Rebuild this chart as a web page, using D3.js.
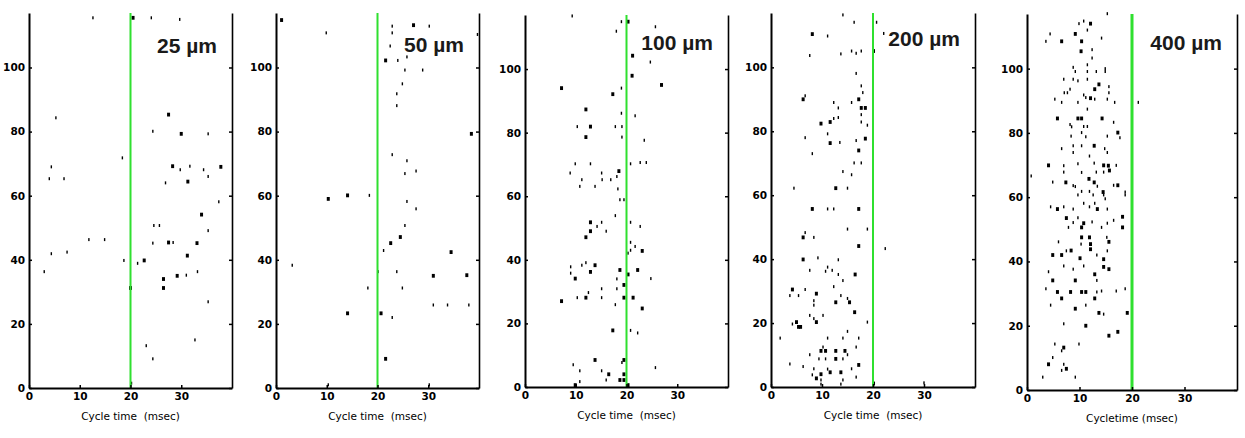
<!DOCTYPE html>
<meta charset="utf-8">
<script src="https://d3js.org/d3.v7.min.js"></script>
<style>
  body { margin: 0; background: #fff; }
  .tick text { font-family: "DejaVu Sans", sans-serif; font-size: 10.5px; font-weight: bold; fill: #000; }
</style>
<div id="my_dataviz"></div>

<script>
// spike rasters: [cycle time (msec), trial, spikes in the bin]
var spikes25 = [[12.6,115.5,1],[20.5,115.5,2],[24.1,115.5,1],[29.7,115,1],[5.3,84.3,1],[27.5,85.3,2],[24.4,80.1,1],[30,79.3,2],[35.3,79.3,1],[18.4,71.8,1],[4.4,69,1],[4,65.3,1],[6.9,65.3,1],[28.3,69.2,2],[29.8,68.1,1],[31.7,69.2,1],[34.4,68.1,1],[37.8,69,2],[26.9,64,1],[31.3,64.4,2],[35.3,66,1],[37.4,58.1,1],[34,54.1,2],[24.6,50.7,1],[25.7,50.7,1],[35.3,49.1,1],[11.8,46.3,1],[14.9,46.3,1],[24.4,45.2,1],[27.5,45.4,2],[28.4,45.4,1],[33.1,45.2,2],[4.4,41.9,1],[7.5,42.4,1],[18.7,39.8,1],[21.4,38.9,1],[22.7,39.8,2],[31.2,41.3,2],[3,36.3,1],[26.5,34,2],[26.5,31.2,2],[29.2,35,2],[31,35.2,1],[33.2,36.3,1],[20,31.2,2],[35.3,26.9,1],[23.1,13.2,1],[32.7,15,1],[24.4,9.1,1],[20.2,1.5,1]];

var spikes50 = [[1.1,114.8,2],[9.9,110.8,1],[22.9,112.9,1],[27.1,113.2,2],[30.2,112.9,1],[39.7,110.3,1],[22.9,110.8,1],[22.5,106.7,1],[25.8,103.3,1],[21.6,102.2,2],[24,102.2,1],[25.4,99.2,1],[28.9,99.2,1],[24.9,94.9,1],[23.8,91.8,1],[23.8,88.1,1],[38.5,79.3,2],[22.9,72.8,1],[25.8,70.9,1],[25.4,66.9,1],[27.6,67.7,1],[25.8,58.2,1],[27.6,55.9,1],[10.3,59,2],[14.1,60.1,2],[18.4,60.1,1],[25.4,50.7,1],[24.5,47.1,2],[22.6,45.2,2],[21.2,42.9,1],[34.5,42.4,2],[3.2,38.3,1],[20.1,36.3,1],[23.8,36.3,1],[31,35,2],[37.6,35.2,2],[18.1,31.2,1],[24.9,31.2,1],[31,25.9,1],[33.8,25.9,1],[38,25.9,1],[14.1,23.3,2],[20.7,23.3,2],[22.9,22,1],[21.6,9.1,2],[10.3,1,1],[30.2,1,1]];

var spikes100 = [[9.3,116.7,1],[19,114.9,1],[20.3,114.9,2],[18,111.9,1],[25.7,113.3,1],[21.2,104.2,2],[24.7,102.2,1],[21.1,97.9,2],[26.9,95,2],[7.2,94,2],[19,94,1],[17.3,92.1,2],[12,87.3,2],[19,86.1,1],[21.7,85.3,1],[10.3,81.9,1],[12.9,81.9,2],[17.8,81.9,1],[19.1,81.9,1],[12,78.6,2],[19.1,78.6,1],[23.5,77.6,1],[9.9,70.2,1],[12.9,70.2,1],[20.8,70.2,1],[22.7,70.6,1],[23.9,70.6,1],[8.9,67.3,1],[15.1,67.3,1],[18.5,67.9,2],[18.1,66.2,1],[11.2,65.2,1],[15.2,65.2,1],[16.9,65.2,1],[10.8,63.1,1],[13.8,63.1,1],[18.3,62.3,1],[18.7,58.9,1],[19.5,58.9,1],[17.8,53.9,1],[12.9,51.8,2],[15.1,51.8,1],[14.2,50.5,1],[16,49,1],[20.8,51.8,1],[22.7,50.5,1],[12.9,49,2],[12,47.1,2],[20.8,45.5,1],[21.7,44.2,1],[20.3,42.1,1],[23.1,42.8,2],[20.8,43,1],[12,39.1,1],[11.2,38.3,1],[13.8,38.3,2],[9,37.8,1],[9,35.8,1],[12.9,36.2,2],[18.7,36.8,2],[20.3,35.4,2],[22.2,36.8,2],[9.9,34.1,2],[18.1,34,1],[24.8,34.1,1],[19.5,32.1,2],[15.1,30.9,1],[18.1,30.9,1],[12.5,29.7,1],[10.3,28.1,1],[12,28.1,2],[15.1,28.1,1],[19.5,28.1,2],[21.3,28.1,2],[7.2,27,2],[17.8,25.9,1],[23.1,24.7,2],[17.3,17.8,2],[20.8,17.8,1],[22.2,17,1],[13.8,8.5,2],[19.5,8.5,2],[19.1,7.7,1],[9.5,7,1],[25.7,6.1,1],[10.8,5.1,1],[15.1,5.1,1],[16.5,4,2],[19.5,4,2],[16,2.2,1],[18.7,2.2,2],[19.5,2.2,2],[10.8,1.7,1],[9.9,0.6,2],[20.3,0.6,2]];

var spikes200 = [[14.1,116.4,1],[16.3,114.1,1],[20.7,114.1,1],[8.1,110.4,2],[11.1,109.8,1],[22.1,110.6,1],[7.6,103.7,1],[13.7,104.2,1],[15.8,105.1,1],[16.7,104.4,1],[17.7,105.1,1],[20.1,105.1,2],[16.7,98.1,1],[17.7,94.2,1],[18,92.1,1],[6.3,90,2],[6.7,91.1,1],[17.2,90,2],[12.3,89,1],[15.8,89,1],[13.2,87.3,1],[17.7,87.3,2],[18.5,87.3,2],[17.7,85.2,1],[13.2,84.3,1],[12.3,84,1],[9.8,82.4,2],[11.6,82.9,2],[17.7,82.9,1],[18.9,81.9,1],[6.7,78,1],[11.1,79.2,1],[11.6,76.3,2],[13.5,76.5,1],[16.7,77.1,1],[18.5,77.7,2],[8.1,73,1],[17.2,74,2],[16.3,70.1,1],[17.7,70.1,1],[14.1,67.4,1],[15.8,66.4,1],[4.5,62.2,1],[12.7,62.2,2],[15,62.2,1],[8.1,55.7,2],[11.1,55.7,1],[12.3,55.7,1],[17.2,55.7,2],[15,49.4,1],[18.9,49.4,1],[6.7,48.3,1],[6.3,46.8,2],[8.4,46.8,1],[17.2,44.1,2],[22.4,43.3,1],[6.3,39.9,2],[9.2,40.4,1],[13.2,39.8,1],[11.1,37.5,1],[12,36.5,1],[10.7,36.2,1],[13.2,35.2,1],[16.5,35.2,2],[7.6,36.5,1],[14.1,33.3,1],[12.3,31.4,1],[4.2,30.5,2],[6.7,30.5,1],[8.9,29.2,2],[3.7,28.6,1],[5.4,28.6,1],[13.7,28.6,1],[8.4,27,1],[15,27.7,1],[12.7,26.5,2],[15.4,26.5,2],[8.4,25.6,1],[16.4,23.4,2],[10.2,22.4,1],[7.6,22.4,1],[8.4,21.4,1],[8.9,20.3,2],[18.9,20.3,1],[5,20.3,2],[5.4,18.8,2],[5.8,18.8,2],[4.2,19.7,1],[15,17.4,1],[1.8,15.3,1],[11.1,15.3,1],[14.1,15.3,1],[17.2,15.3,1],[16.7,12.5,1],[10.2,12.5,1],[9.8,11.3,2],[10.7,11.3,2],[12.7,11.3,2],[14.5,11.3,2],[15,10.1,1],[7.6,10.1,1],[9.4,8.8,1],[10.7,8.8,1],[12.7,8.8,2],[14.1,8.8,1],[3.7,7.2,1],[6.3,6.4,1],[8.4,5.7,1],[11.1,5.6,1],[11.6,4.6,2],[13.7,4.6,2],[15.8,5.7,1],[17.2,6.9,2],[9.8,4,2],[8.1,3.8,1],[8.9,2.7,2],[9.8,2.2,1],[14.1,2.2,1],[16.7,3.1,1],[9.8,0.9,1],[13.7,0.9,1],[20.1,1.1,2],[30,1.3,1]];

var spikes400 = [[15.3,117.1,1],[9.9,114,1],[12.1,114,2],[10.8,114.8,1],[11.5,112,1],[9.2,110.8,2],[4.4,110.8,1],[3.6,108.5,1],[6.6,108.5,2],[10.4,108.5,2],[14.2,109.5,1],[10.3,105.4,2],[12.4,105.9,1],[12.4,103.3,1],[11.5,101.2,1],[8.8,100.4,1],[9.2,99.1,1],[11.5,99.1,1],[13.2,99.1,1],[14.9,100,1],[14.9,99.1,1],[7,96.7,1],[8.8,96.7,1],[9.7,96.2,1],[11.5,96.7,1],[13.7,95.1,2],[15.6,94.4,1],[8.2,93.6,1],[12.9,93.6,2],[7.1,92.5,1],[7.7,92.5,1],[10.8,91.8,1],[11.2,91,1],[12.1,90.8,2],[12.9,90.5,1],[15.6,92.5,1],[15.3,90.5,1],[16.7,89.5,1],[5.3,90.5,1],[6.6,89.5,1],[9.7,89.5,1],[11.5,87.4,1],[21.2,89.5,1],[5.8,84.5,2],[9.7,84.5,2],[10.4,84.5,2],[14.3,84.5,2],[16.5,83.3,1],[8.2,82.6,1],[8.5,81.9,1],[10.8,82,1],[11.5,82,1],[10.4,80.1,1],[17.3,80.1,2],[17.7,78.5,1],[15.3,79,1],[8.4,79,1],[11.2,78.8,1],[8.8,76,1],[10.4,76,1],[12.8,76,2],[14.8,75.1,1],[6.6,75.1,1],[8.8,73.9,1],[15.3,73.9,1],[11.9,72.8,1],[4.1,69.9,2],[7,69.8,1],[7,67.8,1],[9.7,70.4,1],[12.8,70.6,1],[14.6,69.9,2],[15.5,69.8,2],[17,69.9,1],[13.2,67.8,1],[14.6,67.8,1],[15.7,68.3,2],[10.4,67.7,1],[0.8,66.6,1],[4.9,64.7,1],[7.4,64.6,2],[8.8,63.6,1],[9.2,63.3,1],[11.8,65.7,2],[12.8,64.6,2],[13.4,63.4,1],[14.5,61.6,2],[16.5,63.7,1],[17.3,63.7,2],[18.7,61.6,1],[11.9,61.8,1],[10.4,61.8,1],[9.7,60.7,1],[12.6,60.7,1],[14.6,60.7,1],[14.9,59.5,1],[18.7,60.7,1],[10.8,58.1,1],[12.9,58.1,1],[5.8,56.3,2],[4.5,57,1],[7,57,1],[8.8,56.3,1],[11.9,57,1],[13.4,56.3,2],[15.3,56.3,1],[7.5,53.5,2],[9.7,53.6,1],[10.8,51.9,2],[10.4,50.6,2],[8.8,52.1,1],[12.4,52.3,1],[15.3,51.9,1],[16.5,52.8,1],[18.2,53.9,2],[18.2,50.6,2],[7.9,50.6,1],[14.2,50.6,1],[10.4,47.5,2],[11.9,47.5,2],[15.2,47.5,1],[6,46.1,1],[12.1,45.4,2],[12.1,43.8,2],[15.6,46.1,2],[10.3,45.4,1],[4.9,42,2],[6.6,42,2],[7.5,43.3,1],[8.4,43.4,2],[10.1,41,2],[13.3,42,1],[15.3,43.3,1],[14.6,40.7,2],[14.6,38.3,2],[15.6,37.6,2],[7,38.6,1],[8.8,37.6,1],[10.8,38.6,1],[4.1,36.8,1],[12.9,36,2],[4.9,34.1,2],[9.2,34.1,2],[13.3,34.1,1],[3.6,31.5,1],[5.8,30.5,2],[8.3,30.5,2],[10.4,30.5,2],[11.2,30.5,2],[13.3,30.5,1],[14.2,30.8,1],[17,30.8,1],[18.7,31.5,1],[6.6,28.5,2],[12.9,28.5,2],[4.5,26.4,1],[9.2,25.3,2],[11.2,26.4,1],[13.7,24,2],[14.6,23.6,1],[19.1,24,2],[7,20.6,1],[11.2,20,2],[17.3,18.1,2],[15.6,16.9,2],[5.3,14.3,1],[9.9,14.3,1],[7,13.2,2],[6.6,12.2,1],[4.9,10.1,1],[4.1,8,2],[7,8,1],[7.5,6.6,2],[6.6,6.1,1],[3,4,1],[9.2,4,1]];

var panelLabels = ["25 µm", "50 µm", "100 µm", "200 µm", "400 µm"];
var panelData = [spikes25, spikes50, spikes100, spikes200, spikes400];
var axisTitles = ["Cycle time  (msec)", "Cycle time  (msec)", "Cycle time  (msec)", "Cycle time  (msec)", "Cycletime (msec)"];
var xTicks = [0, 10, 20, 30];
var yTicks = [0, 20, 40, 60, 80, 100];
var cutoff = 20;   // msec, green line

// panel boxes in the picture
var boxes = [
  {left: 29,   right: 232,  top: 13, bottom: 388, labelY: 53, greenW: 2},
  {left: 276,  right: 479,  top: 13, bottom: 388, labelY: 52, greenW: 2},
  {left: 525,  right: 728,  top: 15, bottom: 387, labelY: 50, greenW: 2},
  {left: 771,  right: 975,  top: 13, bottom: 387, labelY: 46, greenW: 2},
  {left: 1027, right: 1237, top: 14, bottom: 390, labelY: 50, greenW: 3}
];

var width = 1245, height = 438;

var svg = d3.select("#my_dataviz")
  .append("svg")
    .attr("width", width)
    .attr("height", height);

// mark size from the number of spikes in the bin
var markW = d3.scaleLinear().domain([1, 2]).range([1.4, 3]);
var markH = d3.scaleLinear().domain([1, 2]).range([3, 3.8]);

boxes.forEach(function(b, i) {
  var w = b.right - b.left, h = b.bottom - b.top;
  var g = svg.append("g").attr("transform", "translate(" + b.left + "," + b.top + ")");

  var x = d3.scaleLinear().domain([0, 40]).range([0, w]);
  var y = d3.scaleLinear().domain([0, 117]).range([h, 0]);

  // spikes
  g.selectAll("myspikes")
    .data(panelData[i])
    .enter()
    .append("rect")
      .attr("x", function(d){ return x(d[0]) - markW(d[2]) / 2 })
      .attr("y", function(d){ return y(d[1]) - markH(d[2]) / 2 })
      .attr("width", function(d){ return markW(d[2]) })
      .attr("height", function(d){ return markH(d[2]) })
      .attr("fill", "#000")

  // 20 msec line
  g.append("line")
    .attr("x1", x(cutoff)).attr("x2", x(cutoff))
    .attr("y1", 0).attr("y2", h)
    .attr("stroke", "#2fe02f")
    .attr("stroke-width", b.greenW)

  // axes, MATLAB style inward ticks
  var left = g.append("g")
    .call(d3.axisLeft(y).tickValues(yTicks).tickSizeInner(-3).tickSizeOuter(0).tickPadding(4))
  var right = g.append("g")
    .attr("transform", "translate(" + w + ",0)")
    .call(d3.axisRight(y).tickValues(yTicks).tickSizeInner(-3).tickSizeOuter(0).tickFormat(""))
  var bottom = g.append("g")
    .attr("transform", "translate(0," + h + ")")
    .call(d3.axisBottom(x).tickValues(xTicks).tickSizeInner(-3).tickSizeOuter(0).tickPadding(5))

  left.select(".domain").attr("stroke-width", 2)
  bottom.select(".domain").attr("stroke-width", 2.2)
  right.select(".domain").attr("stroke-width", 1.6)
  g.selectAll(".tick line").attr("stroke-width", 1.5)

  g.append("text")
    .attr("x", w / 2)
    .attr("y", h + 32)
    .attr("text-anchor", "middle")
    .style("white-space", "pre")
    .style("font-family", "DejaVu Sans, sans-serif")
    .style("font-size", "10.5px")
    .text(axisTitles[i])

  // panel label
  g.append("text")
    .attr("x", w - 15)
    .attr("y", b.labelY - b.top)
    .attr("text-anchor", "end")
    .style("font-family", "Liberation Sans, Arial, sans-serif")
    .style("font-weight", "bold")
    .style("font-size", "21px")
    .attr("fill", "#1a1a1a")
    .text(panelLabels[i])
})
</script>
